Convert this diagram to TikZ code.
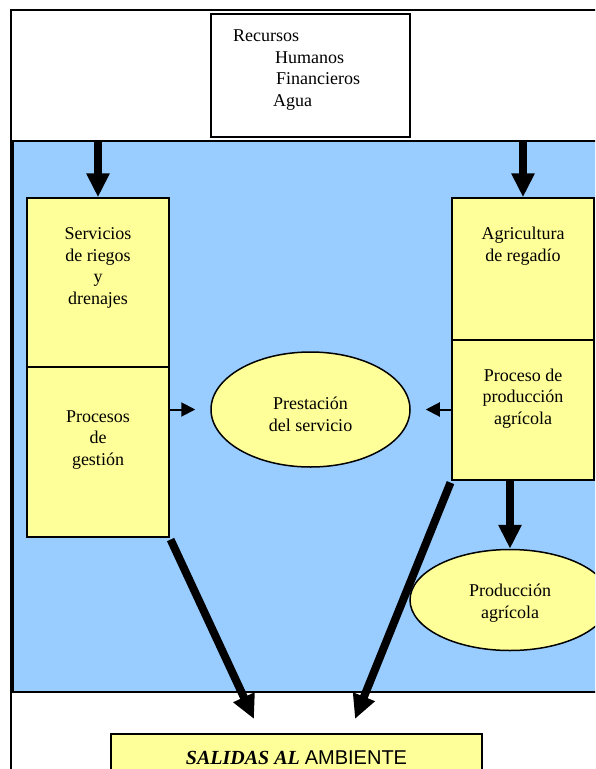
\documentclass[tikz,border=0pt]{standalone}
\usepackage{fontspec}
\setmainfont{Liberation Serif}
\newfontfamily\arialfont{Liberation Sans}
\usetikzlibrary{shapes,arrows.meta,calc}
\definecolor{celeste}{RGB}{153,204,255}
\definecolor{amarillo}{RGB}{255,255,153}

\begin{document}
\begin{tikzpicture}[x=1pt,y=-1pt]
      \tikzset{caja/.style={draw,
          line width=1.5pt,
          fill=amarillo,
          inner sep=0pt,
          minimum width=142pt},
        elipse/.style={draw, ellipse, line width=1.5pt, fill=amarillo, inner sep=0pt},
        texto/.style={align=center, inner sep=0pt, font=\fontsize{18}{21.5}\selectfont},
        flecha gruesa/.style={line width=8pt, -{Triangle[length=24pt,width=22pt]}},
        flecha fina/.style={line width=2pt, -{Triangle[length=14pt,width=14pt]}}
      }
      \useasboundingbox (0,0) rectangle (595,769);
      \clip (0,0) rectangle (595,769);
      \draw [line width=2pt, fill=white] (11,10) rectangle (640,800);
      \node [draw, line width=2pt, fill=celeste, inner sep=0pt, minimum width=607pt, minimum height=551pt] (sistema) at (316.5,416.5) {};
      \node [draw, line width=1.5pt, fill=white, minimum width=199pt, minimum height=123pt] (recursos) at (310.5,75.5) {};
      \node [texto, align=left, anchor=west] (lista) at (233,70) {Recursos\\\hspace*{42pt}Humanos\\\hspace*{43pt}Financieros\\\hspace*{40pt}Agua};
      \node [caja, minimum height=169pt] (serv) at (98,282.5) {};
      \node [caja, minimum height=170pt] (gest) at (98,452) {};
      \node [caja, minimum height=142pt] (agri) at (523,269) {};
      \node [caja, minimum height=140pt] (proc) at (523,410) {};
      \node [elipse, minimum width=199pt, minimum height=115pt] (prest) at (310.5,409.5) {};
      \node [elipse, minimum width=200pt, minimum height=101pt] (prodag) at (510,600) {};
      \node [texto] (servT) at (98,268) {Servicios\\de riegos\\y\\drenajes};
      \node [texto] (gestT) at (98,440) {Procesos\\de\\gesti\'on};
      \node [texto] (agriT) at (523,246) {Agricultura\\de regad\'io};
      \node [texto] (procT) at (523,398.5) {Proceso de\\producci\'on\\agr\'icola};
      \node [texto] (prestT) at (310.5,414.5) {Prestaci\'on\\del servicio};
      \node [texto] (prodagT) at (510,603) {Producci\'on\\agr\'icola};
      \node [caja, texto, font=\fontsize{20}{24}\selectfont, anchor=north, minimum width=371pt, minimum height=48pt] (salidas) at (296.5,733) {\textbf{\textit{SALIDAS AL}} {\arialfont AMBIENTE}};
      \coordinate (salL) at (254,719);
      \coordinate (salR) at (355,719);
      \draw [flecha gruesa] (serv.north |- sistema.north) -- (serv.north);
      \draw [flecha gruesa] (agri.north |- sistema.north) -- (agri.north);
      \draw [flecha gruesa] (prodag.north |- proc.south) -- (prodag.north);
      \draw [flecha gruesa, shorten <=2pt] (gest.south east) -- (salL);
      \draw [flecha gruesa, shorten <=2pt] (proc.south west) -- (salR);
      \draw [flecha fina] (gest.east |- prest.west) -- ([xshift=-15pt]prest.west);
      \draw [flecha fina] (proc.west |- prest.east) -- ([xshift=15pt]prest.east);

    \end{tikzpicture}
\end{document}
